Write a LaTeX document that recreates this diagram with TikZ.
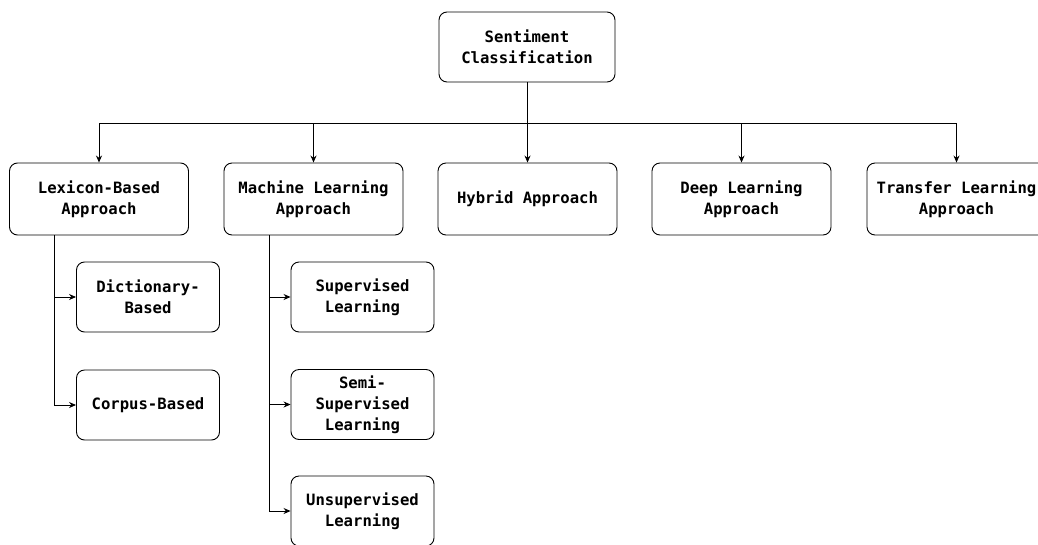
\documentclass[tikz,border=0pt]{standalone}
\usepackage{fontspec}
\setmonofont{DejaVu Sans Mono}
\usetikzlibrary{arrows.meta}
\begin{document}
\begin{tikzpicture}[x=1pt,y=-1pt,
  box/.style={draw=black,line width=0.9pt,rounded corners=8pt,align=center,
    inner sep=0pt,font=\ttfamily\bfseries\fontsize{15.6}{21}\selectfont},
  topbox/.style={box,minimum width=179pt,minimum height=72pt},
  subbox/.style={box,minimum width=143pt,minimum height=70pt},
  link/.style={line width=0.9pt,-{Stealth[length=7pt,width=6pt]}}]
\useasboundingbox (0,0) rectangle (1038,544);
% root
\node[box,minimum width=176pt,minimum height=70pt] (root) at (527,47) {Sentiment\\Classification};
% top-level approaches
\node[topbox] (lex) at (99,199) {Lexicon-Based\\Approach};
\node[topbox] (ml)  at (313.5,199) {Machine Learning\\Approach};
\node[topbox] (hyb) at (527.5,199) {Hybrid Approach};
\node[topbox] (deep) at (741.5,199) {Deep Learning\\Approach};
\node[topbox] (tl)  at (956.5,199) {Transfer Learning\\Approach};
% lexicon sub-methods
\node[subbox] (dict) at (148,297) {Dictionary-\\Based};
\node[subbox] (corp) at (148,405) {Corpus-Based};
% machine learning sub-methods
\node[subbox] (sup) at (362.5,297) {Supervised\\Learning};
\node[subbox] (semi) at (362.5,404.5) {Semi-\\Supervised\\Learning};
\node[subbox] (unsup) at (362.5,511) {Unsupervised\\Learning};
% bus from root
\coordinate (bus) at (527.5,123);
\draw[line width=1.8pt] (root.south -| bus) -- (bus);
\draw[link] (bus) -| (lex.north);
\draw[link] (bus) -| (ml.north);
\draw[link] (bus) -- (hyb.north);
\draw[link] (bus) -| (deep.north);
\draw[link] (bus) -| (tl.north);
% stems to sub-methods
\coordinate (lstem) at (54,235);
\coordinate (mstem) at (269,235);
\draw[link] (lstem) |- (dict);
\draw[link] (lstem) |- (corp);
\draw[link] (mstem) |- (sup);
\draw[link] (mstem) |- (semi);
\draw[link] (mstem) |- (unsup);
\end{tikzpicture}
\end{document}
